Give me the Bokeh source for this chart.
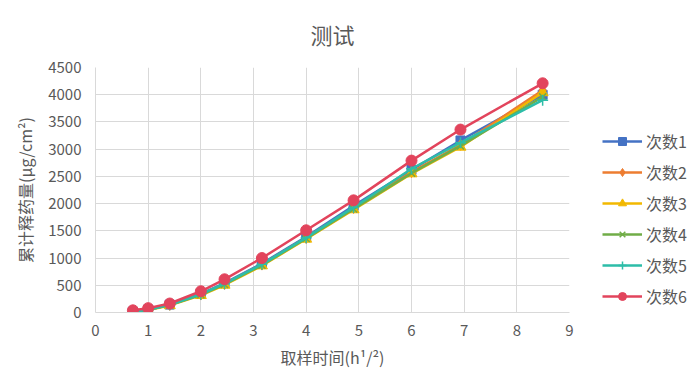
from bokeh.plotting import figure
from bokeh.models import Legend, LegendItem, Range1d, FixedTicker
from bokeh.embed import file_html
from bokeh.resources import INLINE

x_vals = [0.71, 1.0, 1.41, 2.0, 2.45, 3.16, 4.0, 4.90, 6.0, 6.93, 8.49]
s1 = [15, 55, 145, 340, 540, 900, 1390, 1960, 2620, 3160, 4000]
s2 = [12, 50, 140, 330, 525, 880, 1370, 1920, 2580, 3080, 4080]
s3 = [8, 45, 130, 315, 505, 860, 1350, 1890, 2550, 3040, 4040]
s4 = [10, 48, 135, 325, 515, 870, 1360, 1900, 2560, 3060, 3960]
s5 = [12, 52, 142, 335, 530, 885, 1375, 1930, 2640, 3120, 3900]
s6 = [40, 80, 165, 390, 610, 1000, 1510, 2060, 2790, 3360, 4210]
names = ["次数1", "次数2", "次数3", "次数4", "次数5", "次数6"]
x_ticks = [0, 1, 2, 3, 4, 5, 6, 7, 8, 9]
y_ticks = [0, 500, 1000, 1500, 2000, 2500, 3000, 3500, 4000, 4500]
title_text = "测试"

series = [s1, s2, s3, s4, s5, s6]
colors = ["#4472C4", "#ED7D31", "#F2B800", "#70AD47", "#2DBDA8", "#E2445C"]
markers = ["square", "diamond", "triangle", "x", "cross", "circle"]
msizes = [9, 11, 11, 10, 11, 11]

FONT = "Noto Sans CJK SC"
GRAY = "#595959"

p = figure(width=683, height=369, output_backend="svg", toolbar_location=None,
           x_range=Range1d(0, 9), y_range=Range1d(0, 4500),
           min_border_left=95, min_border_right=114, min_border_top=67, min_border_bottom=57)
p.frame_width = 474
p.frame_height = 245
p.outline_line_color = None

p.title.text = title_text
p.title.align = "center"
p.title.vertical_align = "top"
p.title.text_font = FONT
p.title.text_font_size = "22px"
p.title.text_font_style = "normal"
p.title.text_color = GRAY
p.title.standoff = 32

p.xaxis.ticker = FixedTicker(ticks=x_ticks)
p.yaxis.ticker = FixedTicker(ticks=y_ticks)
for ax in (p.xaxis[0], p.yaxis[0]):
    ax.major_tick_line_color = None
    ax.minor_tick_line_color = None
    ax.axis_line_color = "#D9D9D9"
    ax.major_label_text_font = FONT
    ax.major_label_text_font_size = "15px"
    ax.major_label_text_color = GRAY
    ax.axis_label_text_font = FONT
    ax.axis_label_text_font_size = "16px"
    ax.axis_label_text_font_style = "normal"
    ax.axis_label_text_color = GRAY
p.xaxis.axis_label = "取样时间(h¹/²)"
p.yaxis.axis_label = "累计释药量(μg/cm²)"
p.xaxis.major_label_standoff = 6
p.yaxis.major_label_standoff = 8
p.xaxis.axis_label_standoff = 6
p.yaxis.axis_label_standoff = 8

p.xgrid.grid_line_color = "#D9D9D9"
p.ygrid.grid_line_color = "#D9D9D9"

items = []
for ys, c, m, ms, n in zip(series, colors, markers, msizes, names):
    r1 = p.line(x_vals, ys, line_color=c, line_width=2.5)
    r2 = p.scatter(x_vals, ys, marker=m, size=ms, fill_color=c, line_color=c, line_width=1.5 if m in ("x", "cross") else 1)
    items.append(LegendItem(label=n, renderers=[r1, r2]))

legend = Legend(items=items, location=(33, 4), border_line_color=None,
                background_fill_alpha=0,
                label_text_font=FONT, label_text_font_size="16px", label_text_color=GRAY,
                glyph_width=40, glyph_height=20, label_height=20, spacing=7,
                label_standoff=4, padding=0, margin=0)
p.add_layout(legend, "right")

open("out.html", "w").write(file_html(p, INLINE))
